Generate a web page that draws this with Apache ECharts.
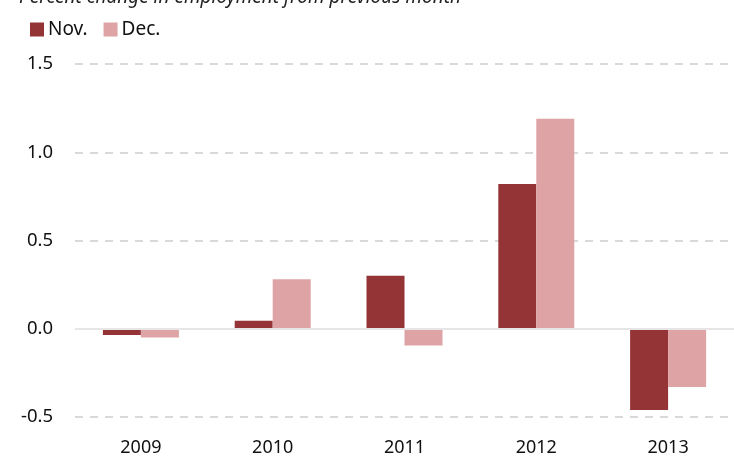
<!DOCTYPE html>
<html>
<head>
<meta charset="utf-8">
<script src="https://cdn.jsdelivr.net/npm/echarts@6/dist/echarts.min.js"></script>
<style>
  html, body { margin: 0; padding: 0; background: #fff; }
  #chart { width: 734px; height: 458px; }
</style>
</head>
<body>
<div id="chart"></div>
<script>
const years = ['2009', '2010', '2011', '2012', '2013'];
const novValues = [-0.035, 0.045, 0.30, 0.82, -0.46];
const decValues = [-0.05, 0.28, -0.095, 1.19, -0.33];
const yTicks = [-0.5, 0.0, 0.5, 1.0, 1.5];

const chart = echarts.init(document.getElementById('chart'));

const option = {
    animation: false,
    textStyle: { fontFamily: '"Noto Sans", sans-serif' },
    title: {
        text: 'Percent change in employment from previous month',
        left: 14,
        top: -17,
        textStyle: { fontSize: 19, fontStyle: 'italic', fontWeight: 'normal', color: '#222' }
    },
    legend: {
        left: 25,
        top: 15,
        icon: 'rect',
        itemWidth: 14,
        itemHeight: 14,
        itemGap: 16,
        textStyle: { fontSize: 19, color: '#111', padding: [0, 0, 0, -1] },
        data: ['Nov.', 'Dec.']
    },
    grid: {
        left: 75,
        width: 663,
        top: 64,
        bottom: 41
    },
    xAxis: {
        type: 'category',
        data: years,
        axisLine: { show: false },
        axisTick: { show: false },
        axisLabel: { fontSize: 18, color: '#111', margin: 22 }
    },
    yAxis: {
        type: 'value',
        min: yTicks[0],
        max: yTicks[yTicks.length - 1],
        interval: 0.5,
        axisLine: { show: false },
        axisTick: { show: false },
        axisLabel: {
            fontSize: 18.5,
            color: '#111',
            margin: 22,
            formatter: v => v.toFixed(1)
        },
        splitLine: {
            lineStyle: { color: '#d9d9d9', width: 2, type: [8, 7] }
        }
    },
    series: [
        {
            name: 'Nov.',
            type: 'bar',
            data: novValues,
            barWidth: 38,
            barGap: '0%',
            itemStyle: { color: '#943437' },
            markLine: {
                silent: true,
                symbol: 'none',
                label: { show: false },
                lineStyle: { color: '#e6e6e6', width: 2, type: 'solid' },
                data: [{ yAxis: 0 }]
            }
        },
        {
            name: 'Dec.',
            type: 'bar',
            data: decValues,
            barWidth: 38,
            itemStyle: { color: '#dea3a5' }
        }
    ]
};

chart.setOption(option);
</script>
</body>
</html>
